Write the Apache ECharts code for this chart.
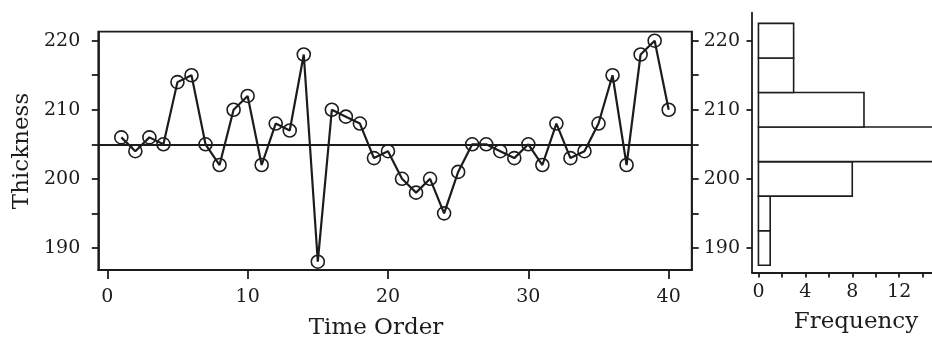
<!DOCTYPE html>
<html>
<head>
<meta charset="utf-8">
<script src="https://cdn.jsdelivr.net/npm/echarts@6/dist/echarts.min.js"></script>
<style>
  html, body { margin: 0; padding: 0; background: #fff; }
  #main { width: 932px; height: 343px; }
</style>
</head>
<body>
<div id="main"></div>
<script>
// run chart: thickness by time order
var timeOrder = [];
for (var i = 1; i <= 40; i++) timeOrder.push(i);
var thickness = [206, 204, 206, 205, 214, 215, 205, 202, 210, 212,
                 202, 208, 207, 218, 188, 210, 209, 208, 203, 204,
                 200, 198, 200, 195, 201, 205, 205, 204, 203, 205,
                 202, 208, 203, 204, 208, 215, 202, 218, 220, 210];
var centerLine = 205;

// histogram bins (thickness ranges) and their counts
var binLow = [187.5, 192.5, 197.5, 202.5, 207.5, 212.5, 217.5];
var binHigh = [192.5, 197.5, 202.5, 207.5, 212.5, 217.5, 222.5];
var binCount = [1, 1, 8, 15, 9, 3, 3];

var yTicksRun = [190, 195, 200, 205, 210, 215, 220];
var yLabels = [190, 200, 210, 220];
var xTicksRun = [0, 10, 20, 30, 40];
var freqTicks = [0, 2, 4, 6, 8, 10, 12, 14];
var freqLabels = [0, 4, 8, 12];

var ink = '#1c1c1c';
var font = 'DejaVu Serif';

var myChart = echarts.init(document.getElementById('main'));

var runData = timeOrder.map(function (t, i) { return [t, thickness[i]]; });
var histData = binCount.map(function (c, i) { return [binLow[i], binHigh[i], c]; });

function labelStyle(vals, margin) {
    return { customValues: vals, fontSize: 19, fontFamily: font, color: ink, margin: margin };
}
function tickStyle(vals, len) {
    return { show: true, customValues: vals, length: len, lineStyle: { color: ink, width: 1.8 } };
}
var axLine = { show: true, onZero: false, lineStyle: { color: ink, width: 1.8 } };

option = {
    animation: false,
    backgroundColor: '#fff',
    grid: [
        { left: 98.3, top: 31.7, width: 593.4, height: 238.3, show: true,
          borderColor: ink, borderWidth: 1.8, backgroundColor: 'transparent' },
        { left: 752, top: 12.7, width: 180, height: 259.8 }
    ],
    xAxis: [
        { gridIndex: 0, type: 'value', min: -0.64, max: 41.64,
          axisLine: axLine, axisTick: tickStyle(xTicksRun, 9),
          axisLabel: labelStyle(xTicksRun, 18), splitLine: { show: false } },
        { gridIndex: 1, type: 'value', min: -0.55, max: 14.8,
          axisLine: axLine, axisTick: tickStyle(freqTicks, 5),
          axisLabel: labelStyle(freqLabels, 10), splitLine: { show: false } }
    ],
    yAxis: [
        { gridIndex: 0, type: 'value', min: 186.8, max: 221.3, position: 'left',
          axisLine: axLine, axisTick: tickStyle(yTicksRun, 6.5),
          axisLabel: labelStyle(yLabels, 18), splitLine: { show: false } },
        { gridIndex: 0, type: 'value', min: 186.8, max: 221.3, position: 'right',
          axisLine: axLine, axisTick: tickStyle(yTicksRun, 7),
          axisLabel: { show: false }, splitLine: { show: false } },
        { gridIndex: 1, type: 'value', min: 186.45, max: 224.05, position: 'left',
          axisLine: axLine, axisTick: tickStyle(yLabels, 5.5),
          axisLabel: labelStyle(yLabels, 12), splitLine: { show: false } }
    ],
    graphic: [
        { type: 'text', x: 22, y: 151, rotation: Math.PI / 2,
          style: { text: 'Thickness', font: '23px "DejaVu Serif"', fill: ink,
                   textAlign: 'center', textVerticalAlign: 'middle' } },
        { type: 'text', x: 376, y: 328,
          style: { text: 'Time Order', font: '23px "DejaVu Serif"', fill: ink,
                   textAlign: 'center', textVerticalAlign: 'middle' } },
        { type: 'text', x: 856, y: 322,
          style: { text: 'Frequency', font: '23px "DejaVu Serif"', fill: ink,
                   textAlign: 'center', textVerticalAlign: 'middle' } }
    ],
    series: [
        {
            type: 'line',
            xAxisIndex: 0,
            yAxisIndex: 0,
            data: runData,
            symbol: 'circle',
            symbolSize: 13,
            itemStyle: { color: 'rgba(0,0,0,0)', borderColor: ink, borderWidth: 1.6 },
            lineStyle: { color: ink, width: 2.2 },
            markLine: {
                silent: true,
                symbol: 'none',
                label: { show: false },
                lineStyle: { color: ink, width: 1.8, type: 'solid' },
                data: [{ yAxis: centerLine }]
            }
        },
        {
            type: 'custom',
            xAxisIndex: 1,
            yAxisIndex: 2,
            clip: true,
            data: histData,
            renderItem: function (params, api) {
                var p0 = api.coord([0, api.value(1)]);
                var p1 = api.coord([api.value(2), api.value(0)]);
                return {
                    type: 'rect',
                    shape: { x: p0[0], y: p0[1], width: p1[0] - p0[0], height: p1[1] - p0[1] },
                    style: { fill: '#fff', stroke: ink, lineWidth: 1.6 }
                };
            }
        }
    ]
};

myChart.setOption(option);
</script>
</body>
</html>
